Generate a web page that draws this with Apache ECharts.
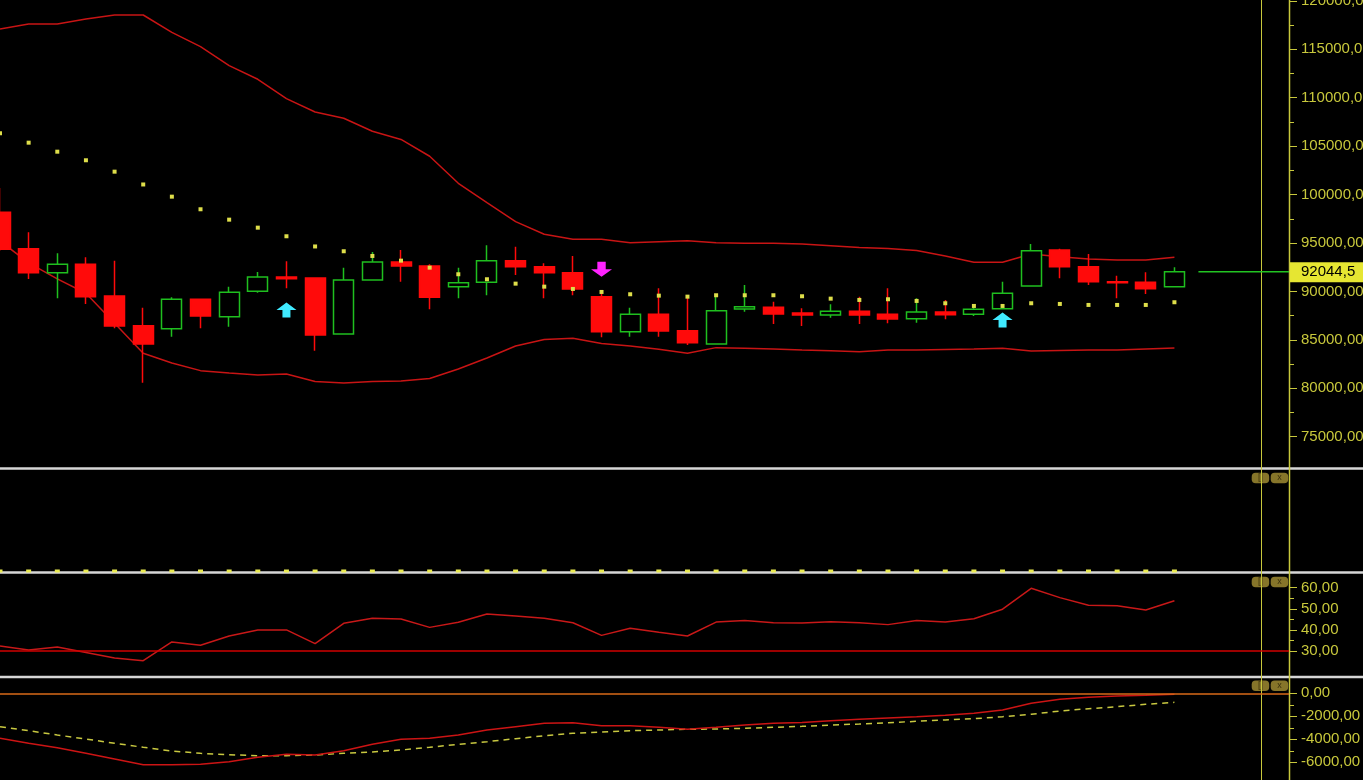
<!DOCTYPE html>
<html><head><meta charset="utf-8">
<script src="https://cdn.jsdelivr.net/npm/echarts@6/dist/echarts.min.js"></script>
<style>html,body{margin:0;padding:0;background:#000;overflow:hidden}#c{width:1363px;height:780px}</style>
</head><body><div id="c"></div>
<script>
// ---- data ----
const categories = ['1','2','3','4','5','6','7','8','9','10','11','12','13','14','15','16','17','18','19','20','21','22','23','24','25','26','27','28','29','30','31','32','33','34','35','36','37','38','39','40','41','42','43','44','45','46'];
const openP  = [98175,94417,91939,92807,89534,86468,86158,89193,87397,90019,91495,91392,85611,91186,93044,92631,90494,90948,93178,92559,91939,89462,85848,87645,85951,84578,88192,88367,87779,87572,87954,87645,87190,87882,87645,88223,90566,94283,92559,91010,90948,90494];
const closeP = [94355,91939,92807,89462,86437,84578,89193,87469,89916,91495,91320,85507,91186,93044,92631,89400,90907,93178,92559,91939,90257,85848,87645,85920,84713,88016,88429,87676,87572,87954,87572,87159,87882,87603,88161,89813,94211,92559,91010,90907,90288,92044.5];
const lowP   = [94180,91289,89296,88708,86199,80583,85332,86199,86364,89875,90329,83887,85550,91150,91010,88161,89296,89606,91702,89296,89606,85270,85332,85332,84475,84500,87913,86643,86437,87294,86643,86712,86777,87128,87469,88150,90500,91361,90670,89296,89740,90450];
const highP  = [100684,96110,93942,93529,93178,88326,89400,89250,90494,92011,93116,91450,92456,94076,94283,92807,92456,94768,94624,92910,93663,89978,88326,90329,89534,89709,90670,88945,88264,88677,89462,90329,89296,89121,88604,91010,94902,94400,93870,91630,91981,92497];
const sarP   = [106331,105361,104431,103544,102367,101045,99786,98485,97411,96585,95697,94644,94149,93663,93178,92456,91774,91258,90804,90494,90257,89947,89709,89565,89462,89606,89606,89606,89503,89255,89121,89193,89018,88780,88501,88501,88780,88708,88605,88605,88605,88884];
const bbUpper = [117099,117615,117615,118131,118544,118544,116758,115272,113310,111906,109903,108530,107880,106537,105691,103957,101169,99166,97205,95904,95388,95388,95037,95140,95243,95037,94975,94975,94902,94727,94541,94438,94231,93663,93013,93013,93870,93591,93354,93250,93250,93529];
const bbLower = [95212,92941,91289,89813,86715,83618,82617,81822,81584,81378,81481,80707,80552,80707,80758,81017,81997,83133,84372,85043,85167,84630,84372,84031,83618,84197,84135,84063,83959,83887,83784,83959,83959,84011,84063,84135,83845,83897,83949,83959,84063,84166];
const volDots = [0,0,0,0,0,0,0,0,0,0,0,0,0,0,0,0,0,0,0,0,0,0,0,0,0,0,0,0,0,0,0,0,0,0,0,0,0,0,0,0,0,0];
const rsiVals = [32.4,30.5,31.9,29.3,26.7,25.4,34.3,32.7,37.1,40.0,40.0,33.5,43.1,45.5,45.2,41.2,43.6,47.5,46.6,45.5,43.4,37.4,40.8,38.9,37.1,43.7,44.4,43.4,43.3,43.9,43.4,42.5,44.4,43.7,45.3,49.8,59.7,55.3,51.7,51.5,49.4,53.8];
const rsiLevel = 30;
const macdVals = [-3913,-4348,-4730,-5218,-5713,-6209,-6209,-6174,-5948,-5565,-5305,-5365,-4991,-4435,-3990,-3913,-3626,-3191,-2904,-2609,-2557,-2817,-2817,-2957,-3130,-2957,-2757,-2609,-2540,-2383,-2261,-2148,-2035,-1913,-1739,-1452,-870,-522,-348,-235,-174,-87];
const signalVals = [-2904,-3252,-3626,-3974,-4348,-4696,-5018,-5218,-5339,-5426,-5426,-5365,-5218,-5104,-4930,-4696,-4435,-4209,-3948,-3687,-3478,-3365,-3252,-3191,-3130,-3104,-3043,-2957,-2874,-2757,-2670,-2557,-2435,-2322,-2209,-2035,-1826,-1539,-1339,-1165,-957,-783];
const buyArrows = [[10, 88090], [35, 87057]];
const sellArrows = [[21, 92300]];
const lastPrice = 92044.5;
const lastPriceLabel = '92044,5';

// ---- styling ----
const YEL = '#c8c83c';
const FONT = 'Liberation Sans, Arial, sans-serif';
const fmt = v => v.toFixed(2).replace('.', ',');
const W = 1363, H = 780, AXX = 1289;

function yAx(gi, min, max, interval, show) {
  return {
    type: 'value', gridIndex: gi, position: 'right', min, max, interval, show: show !== false,
    splitLine: { show: false }, axisLine: { show: false },
    axisTick: { show: true, inside: false, length: 8, lineStyle: { color: YEL, width: 1 } },
    minorTick: { show: true, splitNumber: 2, length: 5, lineStyle: { color: YEL, width: 1 } },
    axisLabel: { color: YEL, fontSize: 15, fontFamily: FONT, margin: 12, formatter: fmt, hideOverlap: false }
  };
}
function xAx(gi) {
  return { type: 'category', gridIndex: gi, data: categories, boundaryGap: false, show: false };
}
function grid(top, height) {
  return { left: 0, right: W - AXX, top, height, containLabel: false, outerBoundsMode: 'none' };
}
const grids = [grid(0.9, 435.8), grid(470, 101), grid(587.7, 63.3), grid(693.3, 69)];
const upArrow = 'path://M10,0 L20,7 L14,7 L14,14 L6,14 L6,7 L0,7 Z';
const downArrow = 'path://M6,0 L14,0 L14,7 L20,7 L10,14 L0,7 L6,7 Z';

function button(x, y, txt) {
  return { type: 'group', x, y, children: [
    { type: 'rect', shape: { x: 0, y: 0, width: 17.5, height: 10.6, r: 4 }, style: { fill: '#86752a' } },
    { type: 'text', style: { text: txt, x: 8.75, y: 5.3, fill: '#3a300c', font: '9px ' + FONT, align: 'center', verticalAlign: 'middle' } }
  ]};
}
const staticGraphics = [
  { type: 'line', shape: { x1: 0, y1: 468.5, x2: W, y2: 468.5 }, style: { stroke: '#d6d6d6', lineWidth: 2.5 }, z: 0 },
  { type: 'line', shape: { x1: 0, y1: 572.5, x2: W, y2: 572.5 }, style: { stroke: '#d6d6d6', lineWidth: 2.5 }, z: 0 },
  { type: 'line', shape: { x1: 0, y1: 677, x2: W, y2: 677 }, style: { stroke: '#d6d6d6', lineWidth: 2.5 }, z: 0 },
  { type: 'line', shape: { x1: 1261.5, y1: 0, x2: 1261.5, y2: H }, style: { stroke: YEL, lineWidth: 1 }, z: 1 },
  { type: 'line', shape: { x1: AXX + 0.5, y1: 0, x2: AXX + 0.5, y2: H }, style: { stroke: YEL, lineWidth: 1.5 }, z: 1 },
  button(1251.7, 472.7, '[]'), button(1270.7, 472.7, 'x'),
  button(1251.7, 576.7, '[]'), button(1270.7, 576.7, 'x'),
  button(1251.7, 680.4, '[]'), button(1270.7, 680.4, 'x')
];

const candleData = openP.map((o, i) => [o, closeP[i], lowP[i], highP[i]]);

const chart = echarts.init(document.getElementById('c'), null, { renderer: 'canvas' });
const option = {
  backgroundColor: '#000',
  animation: false,
  grid: grids,
  xAxis: [xAx(0), xAx(1), xAx(2), xAx(3)],
  yAxis: [
    yAx(0, 75000, 120000, 5000),
    { type: 'value', gridIndex: 1, min: 0, max: 1, show: false },
    yAx(2, 30, 60, 10),
    yAx(3, -6000, 0, 2000)
  ],
  series: [
    { type: 'line', name: 'bbUpper', xAxisIndex: 0, yAxisIndex: 0, data: bbUpper, symbol: 'none', z: 1,
      lineStyle: { color: '#c81414', width: 1.5 } },
    { type: 'line', name: 'bbLower', xAxisIndex: 0, yAxisIndex: 0, data: bbLower, symbol: 'none', z: 1,
      lineStyle: { color: '#c81414', width: 1.5 } },
    { type: 'candlestick', name: 'price', xAxisIndex: 0, yAxisIndex: 0, data: candleData, barWidth: 20.5, z: 2,
      itemStyle: { color: '#000', color0: '#ff0a0a', borderColor: '#1fbf1f', borderColor0: '#ff0a0a', borderWidth: 1.5 } },
    { type: 'scatter', name: 'sar', xAxisIndex: 0, yAxisIndex: 0, data: sarP, symbol: 'rect', symbolSize: 4, z: 3,
      itemStyle: { color: '#dede4a', opacity: 1 } },
    { type: 'scatter', name: 'buy', xAxisIndex: 0, yAxisIndex: 0, data: buyArrows, symbol: upArrow, symbolSize: [20, 15], z: 4,
      itemStyle: { color: '#40eaff', opacity: 1 } },
    { type: 'scatter', name: 'sell', xAxisIndex: 0, yAxisIndex: 0, data: sellArrows, symbol: downArrow, symbolSize: [21, 15], z: 4,
      itemStyle: { color: '#ff22ff', opacity: 1 } },
    { type: 'scatter', name: 'vol', xAxisIndex: 1, yAxisIndex: 1, data: volDots, symbol: 'rect', symbolSize: [5, 3], clip: false, z: 5,
      itemStyle: { color: '#eaea50', opacity: 1 } },
    { type: 'line', name: 'rsi', xAxisIndex: 2, yAxisIndex: 2, data: rsiVals, symbol: 'none', clip: false,
      lineStyle: { color: '#c81818', width: 1.5 },
      markLine: { silent: true, symbol: 'none', label: { show: false }, lineStyle: { color: '#d00000', width: 1.5, type: 'solid' },
        data: [{ yAxis: rsiLevel }] } },
    { type: 'line', name: 'signal', xAxisIndex: 3, yAxisIndex: 3, data: signalVals, symbol: 'none', clip: false,
      lineStyle: { color: '#c8c840', width: 1.5, type: [6, 5] } },
    { type: 'line', name: 'macd', xAxisIndex: 3, yAxisIndex: 3, data: macdVals, symbol: 'none', clip: false,
      lineStyle: { color: '#cc1414', width: 1.5 },
      markLine: { silent: true, symbol: 'none', label: { show: false }, lineStyle: { color: '#d86a18', width: 1.5, type: 'solid' },
        data: [{ yAxis: 0 }] } }
  ],
  graphic: staticGraphics
};
chart.setOption(option);

// last price marker, positioned through the price axis
const py = chart.convertToPixel({ gridIndex: 0 }, [0, lastPrice])[1];
const lastX = chart.convertToPixel({ gridIndex: 0 }, [closeP.length - 1, lastPrice])[0];
chart.setOption({ graphic: staticGraphics.concat([
  { type: 'line', shape: { x1: lastX + 24, y1: py, x2: AXX, y2: py }, style: { stroke: '#22c422', lineWidth: 1.5 }, z: 2 },
  { type: 'rect', shape: { x: AXX + 1, y: py - 9.5, width: W - AXX, height: 20 }, style: { fill: '#e6e632' }, z: 3 },
  { type: 'text', style: { text: lastPriceLabel, x: 1301, y: py + 0.5, fill: '#000', font: '15px ' + FONT, verticalAlign: 'middle' }, z: 4 }
]) });
</script>
</body></html>
